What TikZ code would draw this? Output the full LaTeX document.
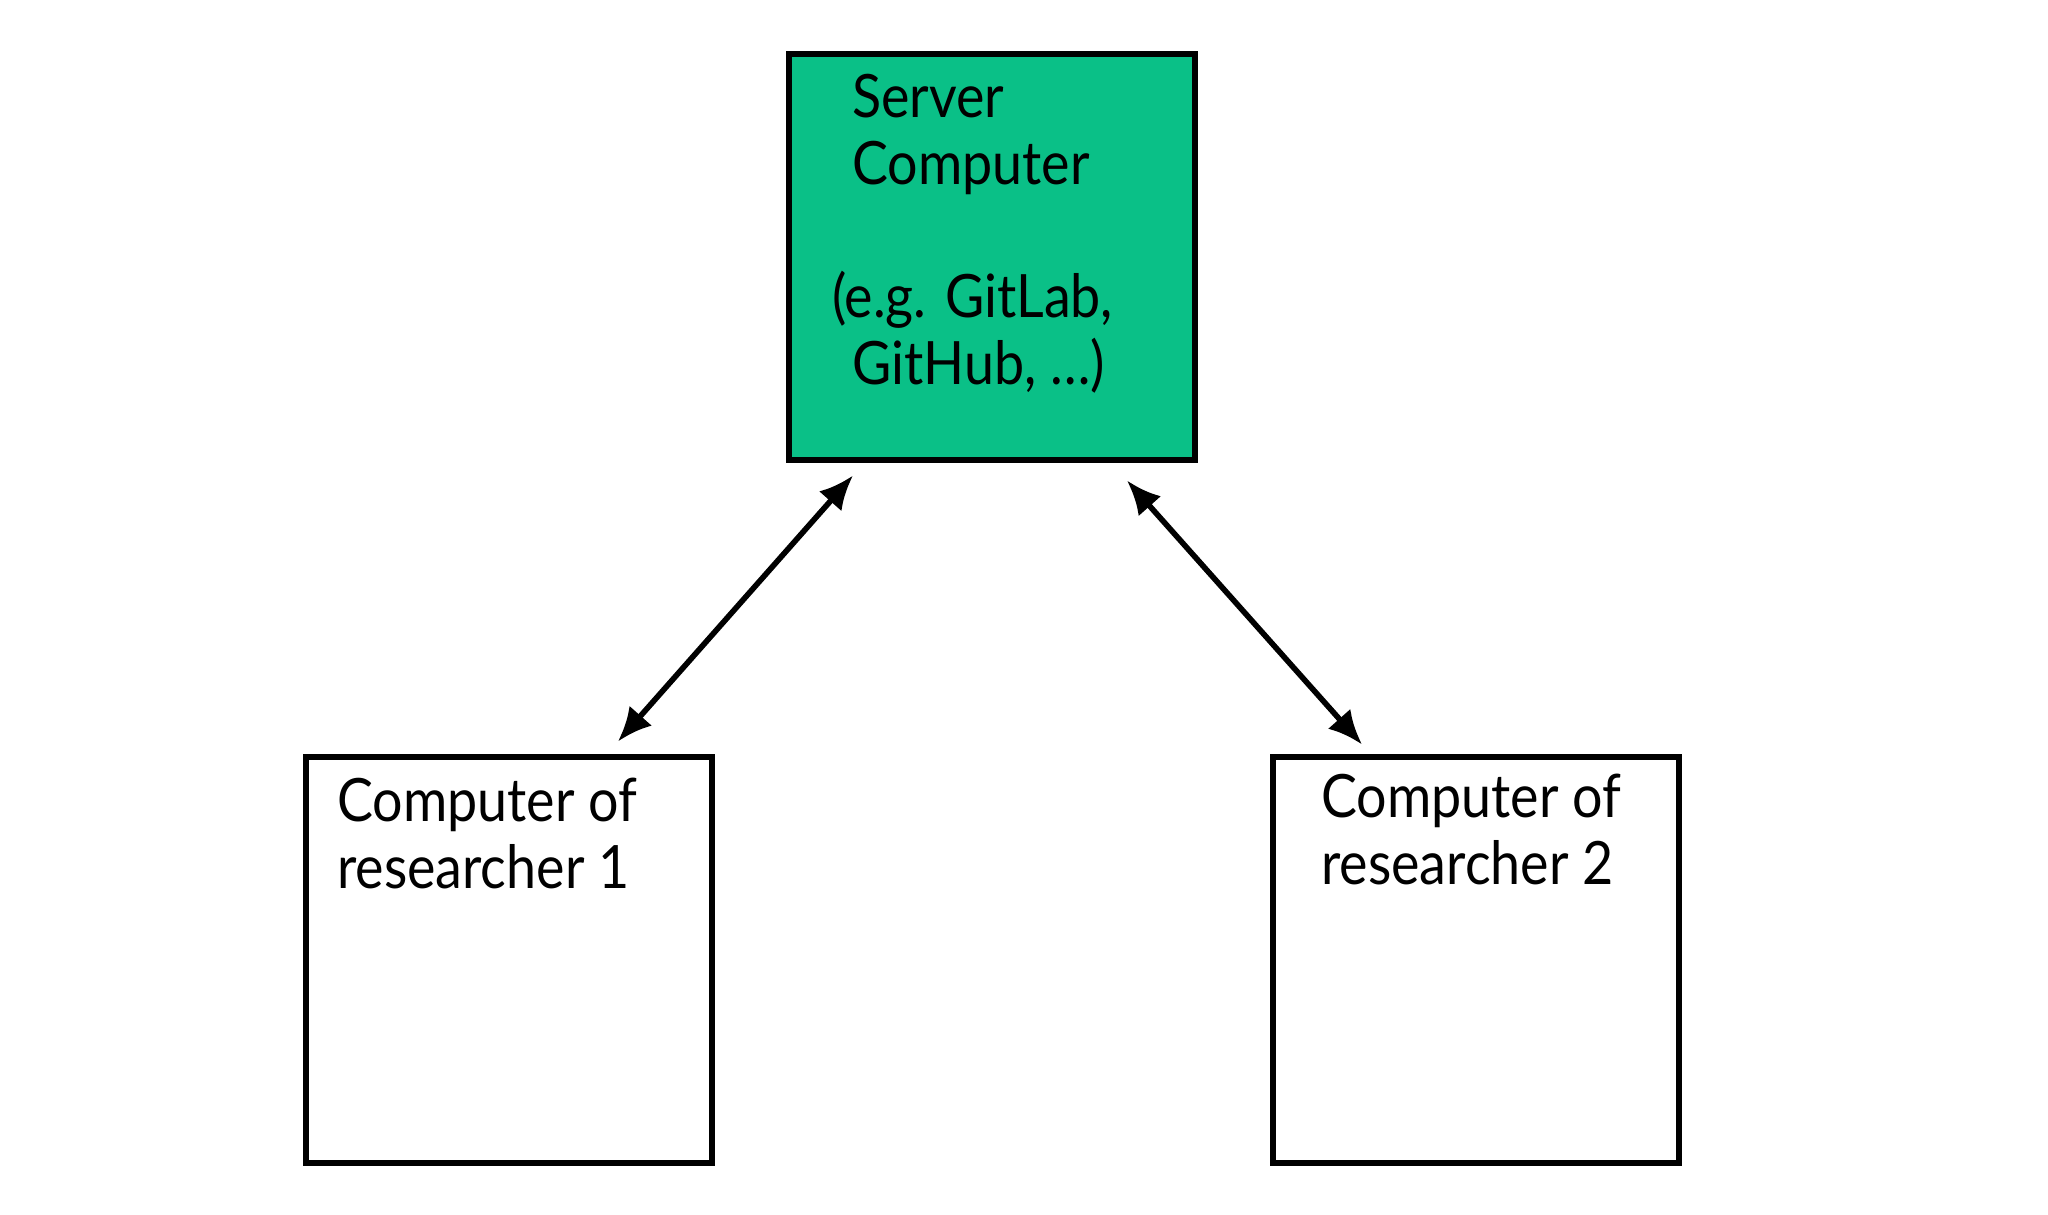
\documentclass[tikz,border=0pt]{standalone}
\usepackage{fontspec}
\setmainfont{Lato}[FakeStretch=0.9]
\usetikzlibrary{arrows.meta}
\usetikzlibrary{positioning}
\definecolor{servergreen}{HTML}{0AC087}

\begin{document}
\begin{tikzpicture}
[x=0.01cm,y=-0.01cm,
  boxdecorate/.style={shape=rectangle,draw,line width=1.7pt,minimum width=4.05cm,minimum height=4.05cm,inner sep=0pt},%
  textdecorate/.style={anchor=north west,align=left,inner sep=0pt,font=\fontsize{17}{19}\selectfont},%
  linedecorate/.style={{Latex[length=0.34cm,width=0.3cm]}-{Latex[length=0.34cm,width=0.3cm]},line width=1.6pt}]
\useasboundingbox (0,0) rectangle (2048,1215);
%% boxes
\foreach \nodename/\x/\y/\fillcolor in {server/992/257/servergreen,
  researcherA/509/960/white, researcherB/1476/960/white}
{
  \node (\nodename) at (\x,\y) [boxdecorate,fill=\fillcolor] {};
}
%% texts
\node (servertext) at ([xshift=0.65cm,yshift=-0.22cm]server.north west) [textdecorate]
  {Server\\Computer\\[19pt]\hspace*{-0.2cm}(e.g. GitLab,\\GitHub, \ldots)};
\node (researcherAtext) at ([xshift=0.33cm,yshift=-0.23cm]researcherA.north west) [textdecorate]
  {Computer of\\researcher 1};
\node (researcherBtext) at ([xshift=0.50cm,yshift=-0.19cm]researcherB.north west) [textdecorate]
  {Computer of\\researcher 2};
%% arrows
\draw[linedecorate] ([xshift=-1.39cm,yshift=-0.13cm]server.south)
  -- ([xshift=1.09cm,yshift=0.13cm]researcherA.north);
\draw[linedecorate] ([xshift=1.35cm,yshift=-0.18cm]server.south)
  -- ([xshift=-1.14cm,yshift=0.10cm]researcherB.north);
\end{tikzpicture}
\end{document}
